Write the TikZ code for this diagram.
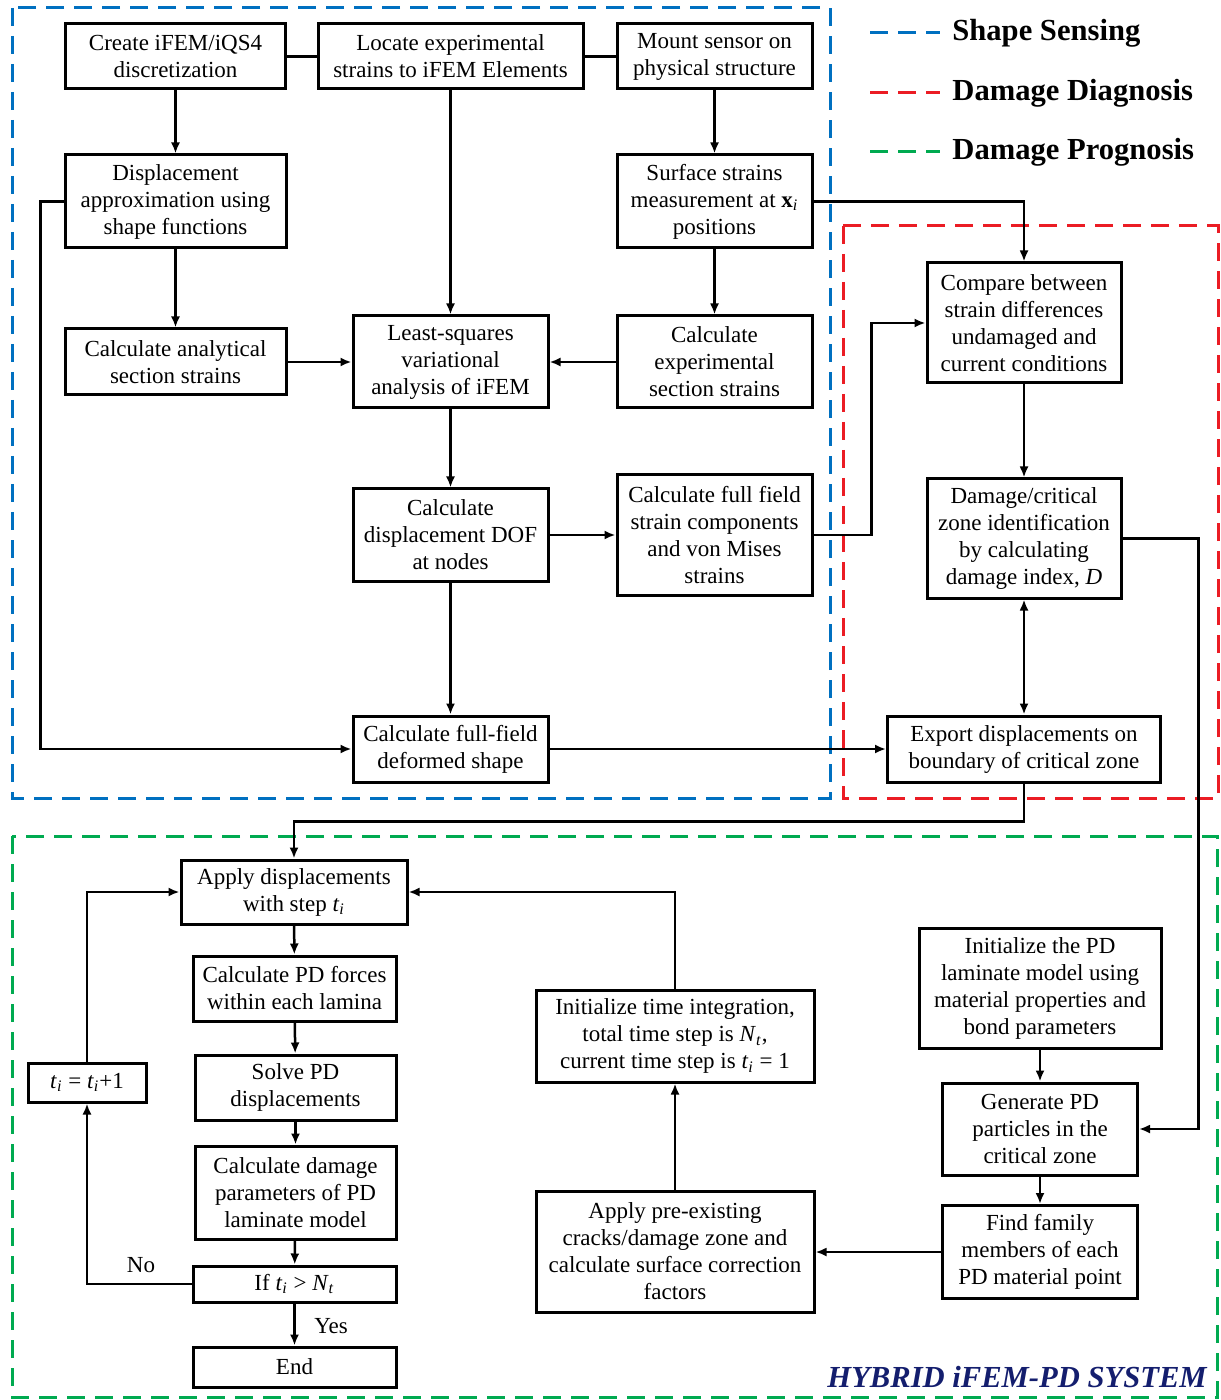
\documentclass[tikz,border=0pt]{standalone}
\usepackage{fontspec}
\setmainfont{Liberation Serif}
\usepackage{tikz}
\usetikzlibrary{shapes,arrows,arrows.meta,positioning}
\definecolor{ssblue}{RGB}{0,112,192}
\definecolor{ddred}{RGB}{235,28,36}
\definecolor{dpgreen}{RGB}{0,170,80}
\definecolor{sysnavy}{RGB}{20,30,110}
\newcommand{\ti}{\textit{t}\textsubscript{\textit{i}}}
\newcommand{\Nt}{\textit{N}\textsubscript{\textit{t}}}
\tikzstyle{block} = [draw, line width=1.5pt, align=center, inner sep=0pt, font=\fontsize{11.5}{13.5}\selectfont]
\tikzstyle{line} = [draw, line width=1.25pt, -{Latex[length=5.5pt,width=4.5pt]}]
\tikzstyle{link} = [draw, line width=1.25pt]
\tikzstyle{zone} = [line width=1.5pt, dash pattern=on 9pt off 5pt]
\tikzstyle{legendtext} = [anchor=west, inner sep=0pt, font=\fontsize{15.3}{18}\selectfont\bfseries]

\begin{document}
\begin{tikzpicture}[x=0.5pt, y=-0.5pt]
			\useasboundingbox (0,0) rectangle (1220,1400);
			
			\draw [zone, ssblue] (12,8) rectangle (830,798);
			\draw [zone, ddred] (843,226) rectangle (1218,798);
			\draw [zone, dpgreen] (12,836) rectangle (1217,1397);
			
			\draw [zone, ssblue] (870,33) -- (940,33);
			\draw [zone, ddred] (870,93) -- (940,93);
			\draw [zone, dpgreen] (870,152) -- (940,152);
			\node [legendtext] (lss) at (952,33) {Shape Sensing};
			\node [legendtext] (ldd) at (952,93) {Damage Diagnosis};
			\node [legendtext] (ldp) at (952,152) {Damage Prognosis};
			
			\node [block, minimum width=110pt, minimum height=32.5pt] (create) at (175.5,56.5) {Create iFEM/iQS4\\discretization};
			\node [block, minimum width=132.5pt, minimum height=32.5pt] (locate) at (450.5,56.5) {Locate experimental\\strains to iFEM Elements};
			\node [block, minimum width=97.5pt, minimum height=32.5pt] (mount) at (714.5,56.5) {Mount sensor on\\physical structure};
			\node [block, minimum width=110.5pt, minimum height=46.5pt] (disp) at (175.5,201.5) {Displacement\\approximation using\\shape functions};
			\node [block, minimum width=97.5pt, minimum height=46.5pt] (measure) at (714.5,201.5) {Surface strains\\measurement at \textbf{x}\textsubscript{\textit{i}}\\positions};
			\node [block, minimum width=110.5pt, minimum height=33pt] (analytic) at (175.5,362) {Calculate analytical\\section strains};
			\node [block, minimum width=97.5pt, minimum height=46pt] (lsq) at (450.5,362) {Least-squares\\variational\\analysis of iFEM};
			\node [block, minimum width=97.5pt, minimum height=46pt] (expsec) at (714.5,362) {Calculate\\experimental\\section strains};
			\node [block, minimum width=97.5pt, minimum height=46pt] (dof) at (450.5,535) {Calculate\\displacement DOF\\at nodes};
			\node [block, minimum width=97.5pt, minimum height=60pt] (fullfield) at (714.5,535) {Calculate full field\\strain components\\and von Mises\\strains};
			\node [block, minimum width=97.5pt, minimum height=33pt] (deformed) at (450.5,749) {Calculate full-field\\deformed shape};
			
			\node [block, minimum width=97pt, minimum height=60pt] (compare) at (1024,323) {Compare between\\strain differences\\undamaged and\\current conditions};
			\node [block, minimum width=97pt, minimum height=59.5pt] (damage) at (1024,538.5) {Damage/critical\\zone identification\\by calculating\\damage index, \textit{D}};
			\node [block, minimum width=136.5pt, minimum height=33pt] (export) at (1024,749) {Export displacements on\\boundary of critical zone};
			
			\node [block, minimum width=113pt, minimum height=32pt] (apply) at (294,892) {Apply displacements\\with step \ti};
			\node [block, minimum width=101.5pt, minimum height=32.5pt] (pdforce) at (294.5,988.5) {Calculate PD forces\\within each lamina};
			\node [block, minimum width=100.5pt, minimum height=32.5pt] (solve) at (295.5,1087.5) {Solve PD\\displacements};
			\node [block, minimum width=100.5pt, minimum height=46.5pt] (dmgparam) at (295.5,1192.5) {Calculate damage\\parameters of PD\\laminate model};
			\node [block, minimum width=101.5pt, minimum height=18pt] (check) at (294.5,1284) {If \ti{} > \Nt};
			\node [block, minimum width=101.5pt, minimum height=20pt] (finish) at (294.5,1367) {End};
			\node [block, minimum width=59pt, minimum height=19.5pt] (incr) at (87,1082.5) {\ti{} = \ti+1};
			\node [block, minimum width=139pt, minimum height=46pt] (inittime) at (675,1036) {Initialize time integration,\\total time step is \Nt,\\current time step is \ti{} = 1};
			\node [block, minimum width=139pt, minimum height=60.5pt] (crack) at (675,1251.5) {Apply pre-existing\\cracks/damage zone and\\calculate surface correction\\factors};
			\node [block, minimum width=121pt, minimum height=60pt] (initpd) at (1040,988) {Initialize the PD\\laminate model using\\material properties and\\bond parameters};
			\node [block, minimum width=97.5pt, minimum height=46pt] (generate) at (1040,1129) {Generate PD\\particles in the\\critical zone};
			\node [block, minimum width=97.5pt, minimum height=46.5pt] (family) at (1040,1252) {Find family\\members of each\\PD material point};
			
			\node [inner sep=0pt, font=\fontsize{11.5}{13.5}\selectfont] (nolabel) at (141,1265) {No};
			\node [inner sep=0pt, font=\fontsize{11.5}{13.5}\selectfont] (yeslabel) at (331,1326) {Yes};
			\node [anchor=east, inner sep=0pt, text=sysnavy, font=\fontsize{15.3}{18}\selectfont\bfseries\itshape] (system) at (1207,1377) {HYBRID iFEM-PD SYSTEM};
			
			\path [link] (create) -- (locate);
			\path [link] (locate) -- (mount);
			\path [line] (create) -- (disp);
			\path [line] (disp) -- (analytic);
			\path [line] (locate) -- (lsq);
			\path [line] (mount) -- (measure);
			\path [line] (measure) -- (expsec);
			\path [line] (analytic) -- (lsq);
			\path [line] (expsec) -- (lsq);
			\path [line] (lsq) -- (dof);
			\path [line] (dof) -- (fullfield);
			\path [line] (dof) -- (deformed);
			\path [line] (disp.west) -- ++(-23,0) |- (deformed.west);
			\path [line] (measure.east) -| (compare.north);
			\path [line] (fullfield.east) -- ++(58,0) |- (compare.west);
			\path [line] (compare) -- (damage);
			\path [line, {Latex[length=5.5pt,width=4.5pt]}-{Latex[length=5.5pt,width=4.5pt]}] (damage) -- (export);
			\path [line] (deformed) -- (export);
			\path [line] (damage.east) -- ++(76,0) |- (generate.east);
			\path [line] (export.south) -- ++(0,38) -| (apply.north);
			
			\path [line] (apply) -- (pdforce);
			\path [line] (pdforce) -- (solve);
			\path [line] (solve) -- (dmgparam);
			\path [line] (dmgparam) -- (check);
			\path [line] (check) -- (finish);
			\path [line] (check.west) -| (incr.south);
			\path [line] (incr.north) |- (apply.west);
			\path [line] (inittime.north) |- (apply.east);
			\path [line] (crack) -- (inittime);
			\path [line] (family.west) -- (family.west -| crack.east);
			\path [line] (initpd) -- (generate);
			\path [line] (generate) -- (family);
		\end{tikzpicture}
\end{document}
